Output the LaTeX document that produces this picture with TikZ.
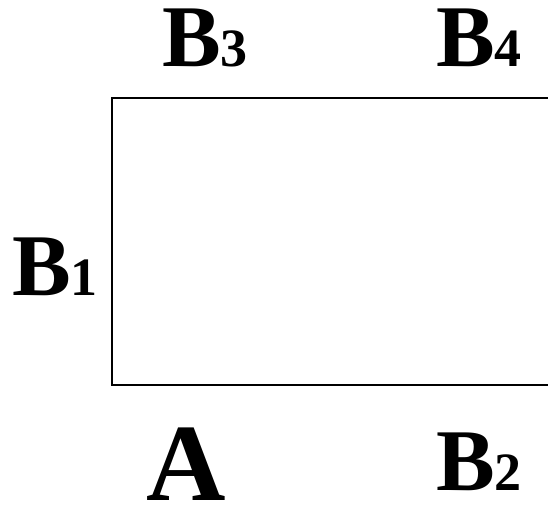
\documentclass[tikz,border=0pt]{standalone}
\usepackage{fontspec}
\setmainfont{Liberation Serif}
\begin{document}
\begin{tikzpicture}[x=1bp,y=-1bp,
  lbl/.style={anchor=base west,inner sep=0pt,text height=58bp,text depth=0pt,font=\bfseries\fontsize{88bp}{88bp}\selectfont},
  big/.style={anchor=base west,inner sep=0pt,text height=73bp,text depth=0pt,font=\bfseries\fontsize{110bp}{110bp}\selectfont}]
\newcommand{\dg}[1]{{\fontsize{54bp}{54bp}\selectfont #1}}
\useasboundingbox (0,0) rectangle (548,508);
\draw[line width=1.5bp] (112,98) coordinate (tl) rectangle (560,385) coordinate (br);
\node[lbl] (b3) at (162,67) {B\dg{3}};
\node[lbl] (b4) at (436,67) {B\dg{4}};
\node[lbl] (b1) at (12,295) {B\dg{1}};
\node[big] (a) at (146,500) {A};
\node[lbl] (b2) at (436,490) {B\dg{2}};
\end{tikzpicture}
\end{document}
